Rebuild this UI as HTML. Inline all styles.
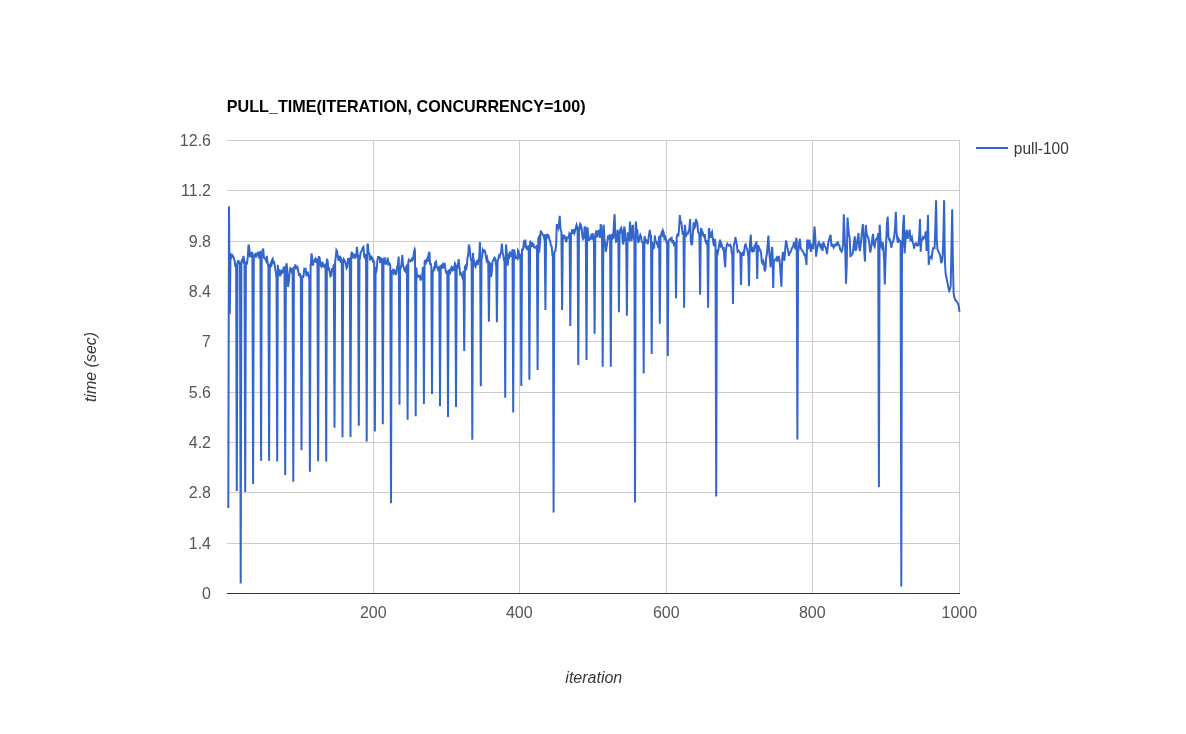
<!DOCTYPE html>
<html><head><meta charset="utf-8"><title>chart</title>
<style>html,body{margin:0;padding:0;background:#fff;}body{width:1186px;height:734px;position:relative;overflow:hidden;font-family:"Liberation Sans",sans-serif;}</style></head>
<body>
<svg width="1186" height="734" viewBox="0 0 1186 734" style="position:absolute;left:0;top:0;will-change:transform">
<rect x="227" y="140.0" width="733" height="1" fill="#ccc"/>
<rect x="227" y="190.0" width="733" height="1" fill="#ccc"/>
<rect x="227" y="241.0" width="733" height="1" fill="#ccc"/>
<rect x="227" y="291.0" width="733" height="1" fill="#ccc"/>
<rect x="227" y="341.0" width="733" height="1" fill="#ccc"/>
<rect x="227" y="392.0" width="733" height="1" fill="#ccc"/>
<rect x="227" y="442.0" width="733" height="1" fill="#ccc"/>
<rect x="227" y="492.0" width="733" height="1" fill="#ccc"/>
<rect x="227" y="543.0" width="733" height="1" fill="#ccc"/>
<rect x="373" y="140" width="1" height="453" fill="#ccc"/>
<rect x="519" y="140" width="1" height="453" fill="#ccc"/>
<rect x="666" y="140" width="1" height="453" fill="#ccc"/>
<rect x="812" y="140" width="1" height="453" fill="#ccc"/>
<rect x="959" y="140" width="1" height="453" fill="#ccc"/>
<rect x="227" y="593" width="733" height="1" fill="#333"/>
<path d="M228.3,507.9 L229.0,206.2 L229.8,314.0 L230.5,254.0 L231.0,254.4 L231.7,256.8 L232.4,255.3 L233.2,256.7 L233.9,258.2 L234.6,260.5 L235.4,266.8 L236.1,263.8 L236.1,266.1 L236.8,491.0 L237.5,261.8 L237.6,264.6 L238.3,260.2 L239.0,262.3 L239.7,263.3 L240.0,262.5 L240.7,583.6 L241.4,261.6 L241.9,260.3 L242.7,261.4 L243.4,255.9 L244.1,259.7 L244.5,261.7 L245.2,492.1 L245.9,263.8 L246.3,262.7 L247.1,263.2 L247.8,256.9 L248.5,244.5 L249.3,247.4 L250.0,257.2 L250.7,254.2 L251.5,255.9 L252.2,251.8 L252.4,255.0 L253.1,484.1 L253.8,256.4 L254.4,255.1 L255.1,254.3 L255.9,257.6 L256.6,252.8 L257.3,255.5 L258.1,251.8 L258.8,258.5 L259.5,252.5 L260.2,252.0 L260.4,253.0 L261.1,460.8 L261.7,259.4 L261.8,253.9 L262.4,250.9 L263.2,248.6 L263.9,257.7 L264.6,258.0 L265.4,259.3 L266.1,260.8 L266.8,255.9 L267.6,263.0 L268.3,265.9 L268.4,263.9 L269.1,460.8 L269.8,265.0 L269.8,265.5 L270.5,263.9 L271.2,267.1 L272.0,260.0 L272.7,258.8 L273.4,262.8 L274.2,262.3 L274.9,266.7 L275.6,271.1 L276.4,276.8 L276.5,274.8 L277.2,461.6 L277.8,264.9 L277.9,266.7 L278.6,272.8 L279.3,271.6 L280.0,276.3 L280.8,271.9 L281.5,273.0 L282.2,269.6 L282.9,273.0 L283.7,266.6 L284.4,268.7 L284.5,269.2 L285.2,474.9 L285.9,266.9 L285.9,267.0 L286.6,263.3 L287.3,270.9 L288.1,286.9 L288.8,281.4 L289.5,274.1 L290.3,268.3 L291.0,268.7 L291.7,271.2 L292.5,267.9 L292.6,268.3 L293.3,481.7 L293.9,267.4 L294.0,267.2 L294.7,267.2 L295.4,264.5 L296.1,268.5 L296.9,268.3 L297.6,267.3 L298.3,271.3 L299.1,275.8 L299.8,273.2 L300.5,277.5 L300.8,275.8 L301.5,450.3 L302.2,275.3 L302.7,277.7 L303.4,276.9 L304.2,269.9 L304.9,271.1 L305.6,267.9 L306.4,276.2 L307.1,272.7 L307.8,272.5 L308.6,275.8 L309.2,278.6 L309.3,280.4 L309.9,471.7 L310.6,264.1 L310.8,266.5 L311.5,253.5 L312.2,257.4 L313.0,265.7 L313.7,261.3 L314.4,261.0 L315.2,259.2 L315.9,262.8 L316.6,258.5 L317.4,263.9 L317.4,259.6 L318.1,461.2 L318.8,255.9 L318.8,256.6 L319.6,257.7 L320.3,263.7 L321.0,265.7 L321.8,262.0 L322.5,267.0 L323.2,264.4 L324.0,266.5 L324.7,265.7 L325.4,264.7 L325.5,265.5 L326.2,461.6 L326.9,258.4 L326.9,260.5 L327.6,260.6 L328.3,269.2 L329.1,268.6 L329.8,272.7 L330.5,276.3 L331.3,275.6 L332.0,268.4 L332.7,271.9 L333.5,265.7 L333.8,265.3 L334.5,427.8 L335.2,260.8 L335.7,257.3 L336.4,250.2 L337.1,251.4 L337.9,257.4 L338.6,260.8 L339.3,258.2 L340.1,255.9 L340.8,262.9 L341.5,260.4 L341.8,261.6 L342.5,437.3 L343.2,261.5 L343.7,259.2 L344.5,260.5 L345.2,261.9 L345.9,264.2 L346.6,268.1 L347.4,266.6 L348.1,258.1 L348.8,261.9 L349.6,260.8 L349.8,257.5 L350.5,436.9 L351.2,255.0 L351.8,251.8 L352.5,258.2 L353.2,255.7 L354.0,258.2 L354.7,253.9 L355.4,257.5 L356.2,256.6 L356.9,246.9 L357.6,253.8 L358.1,256.0 L358.8,425.7 L359.5,255.1 L359.8,259.2 L360.6,252.9 L361.3,251.4 L362.0,249.9 L362.8,247.7 L363.5,246.9 L364.2,256.6 L365.0,257.9 L365.7,255.9 L366.0,253.9 L366.7,441.5 L367.4,245.0 L367.9,243.7 L368.6,254.8 L369.3,252.5 L370.1,259.6 L370.8,259.3 L371.5,257.0 L372.3,258.2 L373.0,261.3 L373.7,260.9 L374.2,262.3 L374.9,431.5 L375.6,267.0 L375.9,272.9 L376.7,269.8 L377.4,260.1 L378.1,257.0 L378.9,257.0 L379.6,257.9 L380.3,263.1 L381.1,258.5 L381.8,259.0 L382.1,260.1 L382.8,424.2 L383.5,259.1 L384.0,258.5 L384.7,258.3 L385.5,263.7 L386.2,263.9 L386.9,263.2 L387.7,257.7 L388.4,264.0 L389.1,263.0 L389.8,264.0 L390.3,265.9 L391.0,503.2 L391.7,270.1 L392.0,273.0 L392.8,270.7 L393.5,272.7 L394.2,270.2 L395.0,271.0 L395.7,275.1 L396.4,272.6 L397.2,266.4 L397.9,265.9 L398.6,256.7 L398.8,258.1 L399.5,404.8 L400.1,267.3 L400.2,266.8 L400.8,268.7 L401.6,262.8 L402.3,255.1 L403.0,265.6 L403.8,267.0 L404.5,270.6 L405.2,271.4 L406.0,267.9 L406.7,268.6 L406.9,264.2 L407.6,419.8 L408.3,261.6 L408.9,259.9 L409.6,261.3 L410.4,261.3 L411.1,260.6 L411.8,258.9 L412.5,260.2 L413.3,258.7 L414.0,251.7 L414.7,249.4 L415.0,250.6 L415.7,416.2 L416.4,267.5 L416.9,275.2 L417.7,275.3 L418.4,276.7 L419.1,276.5 L419.9,275.8 L420.6,280.5 L421.3,277.7 L422.1,278.3 L422.8,268.1 L423.2,267.1 L423.9,404.1 L424.6,261.9 L425.0,259.9 L425.7,264.5 L426.5,260.3 L427.2,258.7 L427.9,261.7 L428.7,253.9 L429.4,251.8 L430.1,263.9 L430.9,263.9 L431.3,266.8 L432.0,394.0 L432.7,270.9 L433.0,272.2 L433.8,268.3 L434.5,269.0 L435.2,262.7 L436.0,261.7 L436.7,267.4 L437.4,267.7 L438.2,270.6 L438.9,270.6 L439.3,265.9 L440.0,406.2 L440.7,265.3 L441.1,267.7 L441.8,264.4 L442.6,268.7 L443.3,262.6 L444.0,266.0 L444.8,264.8 L445.5,269.7 L446.2,272.6 L447.0,272.1 L447.3,273.2 L448.0,417.0 L448.7,272.1 L449.2,272.9 L449.9,269.0 L450.6,271.3 L451.4,267.7 L452.1,269.3 L452.8,266.5 L453.5,270.7 L454.3,268.2 L455.0,263.4 L455.3,263.9 L456.0,406.9 L456.7,264.7 L457.2,268.7 L457.9,265.5 L458.7,259.2 L459.4,267.0 L460.1,274.1 L460.9,273.4 L461.6,275.1 L462.3,277.1 L463.1,273.7 L463.5,270.8 L464.2,351.1 L464.9,266.8 L465.3,266.2 L466.0,270.1 L466.7,267.1 L467.5,257.6 L468.2,255.0 L468.9,244.5 L469.7,248.2 L470.4,255.8 L471.1,260.8 L471.6,258.4 L472.3,439.8 L473.0,252.9 L473.3,257.9 L474.1,261.8 L474.8,265.7 L475.5,266.7 L476.2,263.6 L477.0,260.3 L477.7,265.2 L478.4,259.7 L479.2,258.0 L479.9,242.0 L480.1,244.3 L480.8,386.2 L481.5,258.5 L482.1,257.5 L482.8,250.0 L483.6,251.5 L484.3,250.5 L485.0,250.7 L485.8,255.8 L486.5,259.9 L487.2,257.9 L488.0,262.5 L488.2,260.4 L488.9,321.8 L489.6,262.9 L490.2,263.6 L490.9,277.1 L491.6,274.3 L492.4,262.1 L493.1,260.9 L493.8,259.0 L494.6,257.6 L495.3,258.6 L496.0,265.7 L496.2,261.6 L496.9,322.2 L497.6,260.7 L498.2,259.0 L498.9,255.9 L499.7,256.8 L500.4,253.7 L501.1,252.6 L501.9,243.7 L502.6,252.8 L503.3,255.3 L504.1,261.1 L504.5,257.1 L505.2,397.8 L505.9,244.4 L506.3,247.0 L507.0,258.3 L507.7,265.7 L508.5,255.9 L509.2,257.0 L509.9,251.5 L510.7,256.1 L511.4,255.9 L512.1,253.2 L512.5,249.2 L513.2,412.6 L513.9,250.5 L514.3,250.4 L515.1,255.2 L515.8,257.9 L516.5,257.5 L517.3,258.5 L518.0,250.5 L518.7,251.9 L519.4,257.1 L520.2,255.4 L520.6,253.7 L521.3,386.0 L522.0,250.1 L522.4,249.2 L523.1,249.3 L523.8,243.0 L524.6,244.8 L525.3,239.6 L526.0,247.4 L526.8,247.2 L527.5,250.3 L528.2,246.4 L528.7,245.3 L529.4,379.8 L530.1,242.4 L530.4,241.9 L531.2,244.8 L531.9,242.1 L532.6,246.8 L533.4,243.3 L534.1,247.4 L534.8,247.7 L535.6,247.6 L536.3,246.3 L536.9,245.1 L537.6,369.9 L538.3,238.3 L538.5,237.9 L539.2,252.6 L539.9,243.8 L540.7,230.6 L541.4,232.2 L542.1,233.5 L542.9,235.2 L543.6,235.3 L544.3,239.3 L544.7,234.3 L545.4,309.9 L546.1,234.2 L546.5,239.0 L547.3,233.8 L548.0,236.3 L548.7,236.1 L549.5,239.6 L550.2,241.1 L550.9,245.7 L551.7,246.5 L552.4,254.8 L552.9,254.6 L553.6,512.5 L554.3,254.0 L554.6,251.5 L555.3,251.1 L556.1,245.0 L556.8,224.1 L557.5,225.7 L558.3,228.1 L559.0,224.4 L559.7,215.9 L560.5,229.4 L561.2,231.2 L561.4,231.8 L562.1,310.1 L562.8,234.5 L563.4,237.8 L564.1,235.8 L564.8,236.5 L565.6,240.1 L566.3,242.2 L567.0,237.6 L567.8,237.8 L568.5,237.6 L569.2,234.3 L569.6,235.5 L570.3,326.0 L571.0,232.5 L571.4,233.5 L572.2,229.4 L572.9,233.8 L573.6,229.2 L574.4,233.0 L575.1,230.9 L575.8,227.2 L576.6,224.9 L577.3,228.5 L577.6,229.6 L578.3,365.1 L579.0,226.4 L579.5,229.9 L580.2,224.0 L581.0,225.1 L581.7,229.0 L582.4,237.0 L583.1,239.1 L583.9,237.9 L584.6,226.5 L585.3,228.2 L585.8,230.6 L586.5,360.0 L587.2,228.3 L587.5,227.3 L588.3,235.3 L589.0,240.6 L589.7,238.7 L590.5,238.8 L591.2,236.0 L591.9,237.5 L592.7,233.1 L593.4,239.6 L593.9,235.5 L594.6,333.8 L595.3,234.6 L595.6,233.6 L596.3,230.6 L597.1,237.2 L597.8,234.6 L598.5,229.8 L599.3,233.1 L600.0,237.9 L600.7,224.1 L601.5,230.8 L602.0,235.2 L602.7,366.7 L603.4,225.7 L603.7,224.9 L604.4,238.3 L605.1,243.1 L605.8,251.8 L606.6,247.1 L607.3,242.6 L608.0,235.5 L608.8,237.4 L609.5,235.6 L610.1,236.2 L610.8,366.7 L611.5,237.2 L611.7,233.9 L612.4,238.9 L613.2,237.9 L613.9,223.5 L614.6,214.2 L615.4,237.5 L616.1,241.7 L616.8,241.1 L617.6,229.8 L618.2,231.8 L618.3,232.4 L618.9,312.3 L619.6,231.2 L619.8,233.8 L620.5,229.0 L621.2,227.8 L622.0,231.1 L622.7,242.4 L623.4,244.4 L624.2,226.5 L624.9,230.4 L625.6,241.4 L626.2,239.0 L626.9,315.8 L627.6,235.1 L627.8,232.2 L628.5,238.2 L629.3,239.5 L630.0,221.6 L630.7,229.4 L631.5,241.1 L632.2,232.1 L632.9,224.9 L633.7,237.6 L634.3,239.8 L634.4,241.1 L635.0,502.6 L635.7,224.0 L635.9,221.6 L636.6,230.5 L637.3,230.4 L638.1,242.8 L638.8,241.1 L639.5,237.8 L640.3,235.0 L641.0,236.6 L641.7,241.7 L642.5,242.7 L643.0,241.7 L643.7,373.5 L644.4,237.6 L644.7,236.3 L645.4,241.5 L646.1,240.0 L646.9,241.0 L647.6,244.4 L648.3,240.7 L649.0,234.8 L649.8,229.8 L650.5,236.4 L651.0,234.7 L651.7,353.9 L652.4,243.3 L652.7,243.8 L653.4,248.4 L654.2,247.7 L654.9,235.5 L655.6,241.2 L656.4,241.6 L657.1,243.8 L657.8,246.1 L658.6,244.4 L659.1,236.0 L659.8,323.7 L660.5,234.8 L660.8,236.5 L661.5,233.2 L662.2,234.8 L663.0,230.6 L663.7,232.4 L664.4,238.4 L665.2,237.0 L665.9,239.1 L666.6,243.3 L667.1,241.5 L667.8,356.0 L668.5,240.5 L668.8,240.2 L669.5,239.4 L670.3,238.7 L671.0,240.0 L671.7,238.6 L672.5,243.3 L673.2,240.2 L673.9,244.5 L674.7,243.4 L675.3,245.2 L675.4,246.1 L676.0,298.3 L676.7,237.6 L676.9,236.4 L677.6,233.5 L678.3,236.5 L679.1,228.6 L679.8,215.1 L680.5,221.8 L681.3,222.1 L682.0,228.1 L682.7,234.6 L683.4,231.3 L683.5,233.5 L684.1,307.8 L684.8,226.6 L684.9,224.9 L685.7,233.1 L686.4,235.2 L687.1,233.5 L687.9,233.5 L688.6,231.1 L689.3,229.2 L690.1,219.1 L690.8,239.9 L691.5,245.2 L692.2,243.2 L693.0,231.8 L693.7,222.4 L694.4,227.8 L695.2,226.4 L695.9,219.1 L696.6,221.1 L697.4,223.8 L698.1,232.1 L698.8,233.0 L699.4,235.0 L700.1,294.7 L700.8,230.5 L701.0,228.1 L701.8,230.1 L702.5,236.0 L703.2,233.8 L704.0,236.0 L704.7,234.2 L705.4,240.9 L706.2,242.8 L706.9,241.4 L707.4,240.2 L708.1,307.8 L708.8,229.6 L709.1,228.1 L709.8,233.8 L710.6,237.9 L711.3,233.9 L712.0,232.2 L712.7,238.0 L713.5,244.0 L714.2,246.1 L714.9,238.8 L715.5,243.5 L716.2,496.5 L716.9,250.6 L717.1,250.4 L717.9,252.4 L718.6,248.9 L719.3,243.7 L720.1,239.6 L720.8,245.4 L721.5,244.0 L722.3,247.1 L723.0,248.9 L723.7,247.0 L724.5,260.5 L725.2,267.3 L725.9,250.0 L726.7,245.4 L727.4,243.8 L728.1,245.0 L728.9,245.6 L729.6,245.9 L730.3,244.9 L731.1,247.2 L731.8,253.8 L732.3,254.2 L733.0,304.0 L733.7,247.4 L734.0,244.1 L734.7,242.8 L735.4,237.1 L736.2,241.7 L736.9,245.3 L737.6,251.6 L738.4,250.6 L739.1,251.3 L739.8,252.2 L740.3,252.8 L741.0,285.1 L741.7,252.4 L742.0,254.0 L742.8,252.8 L743.5,255.8 L744.2,251.5 L745.0,245.0 L745.7,244.4 L746.4,247.9 L747.2,248.9 L747.9,254.0 L748.3,253.6 L749.0,285.9 L749.7,247.8 L750.1,242.2 L750.8,234.7 L751.6,251.0 L752.3,251.4 L753.0,247.1 L753.8,251.8 L754.5,246.3 L755.2,246.9 L755.9,242.9 L756.5,242.5 L757.2,278.9 L757.9,245.2 L758.1,245.6 L758.9,247.2 L759.6,250.3 L760.3,250.1 L761.1,253.3 L761.8,261.8 L762.5,263.2 L763.3,261.2 L764.0,263.7 L764.7,271.4 L765.5,268.6 L766.2,257.2 L766.9,254.0 L767.7,244.4 L768.4,235.5 L769.1,250.1 L769.9,259.3 L770.6,267.3 L771.3,255.0 L772.1,246.9 L772.5,250.8 L773.2,287.9 L773.9,259.5 L774.3,261.2 L775.0,259.5 L775.7,259.3 L776.5,257.9 L777.2,260.8 L777.9,260.4 L778.6,255.9 L779.4,258.9 L780.1,266.5 L780.7,276.0 L781.4,286.8 L782.1,261.9 L782.3,256.6 L783.0,251.8 L783.8,258.0 L784.5,260.8 L785.2,248.9 L786.0,240.4 L786.7,243.8 L787.4,247.5 L788.2,251.1 L788.9,255.9 L789.6,252.9 L790.4,252.3 L791.1,250.6 L791.8,248.3 L792.6,247.3 L793.3,245.2 L794.0,242.0 L794.8,246.9 L795.5,249.3 L796.2,237.9 L796.7,240.3 L797.4,439.4 L798.1,249.5 L798.4,251.0 L799.1,243.1 L799.9,238.8 L800.6,247.4 L801.3,249.3 L802.1,250.6 L802.8,251.1 L803.5,252.5 L804.3,254.9 L805.0,254.7 L805.7,258.6 L806.5,264.9 L807.2,239.6 L807.9,249.3 L808.7,246.4 L809.4,239.6 L810.1,246.0 L810.9,251.8 L811.6,243.7 L812.3,246.8 L813.1,249.3 L813.8,237.3 L814.5,226.5 L815.3,236.7 L816.0,256.7 L816.7,252.2 L817.5,246.5 L818.2,244.2 L818.9,242.4 L819.6,244.2 L820.4,246.8 L821.1,245.2 L821.8,247.0 L822.6,251.0 L823.3,242.0 L824.0,243.8 L824.8,246.3 L825.5,247.3 L826.2,249.4 L827.0,254.2 L827.7,247.5 L828.4,242.0 L829.2,239.4 L829.9,236.8 L830.6,234.7 L831.4,245.6 L832.1,245.7 L832.8,245.0 L833.6,247.6 L834.3,246.5 L835.0,245.0 L835.8,245.2 L836.5,243.5 L837.2,244.5 L838.0,242.7 L838.7,244.4 L839.4,245.6 L840.2,249.5 L840.9,250.5 L841.6,251.6 L842.3,250.0 L843.1,243.5 L843.8,214.2 L844.5,232.2 L845.3,251.5 L846.0,283.7 L846.7,266.6 L847.5,217.5 L848.2,226.4 L848.9,234.5 L849.7,237.6 L850.4,256.0 L851.1,255.7 L851.9,254.6 L852.6,254.0 L853.3,249.1 L854.1,241.2 L854.8,236.3 L855.5,251.0 L856.3,249.0 L857.0,242.6 L857.7,238.3 L858.5,233.0 L859.2,247.2 L859.9,251.0 L860.7,244.9 L861.4,237.5 L862.1,231.0 L862.8,224.1 L863.6,235.3 L864.3,252.6 L865.0,261.6 L865.8,224.9 L866.5,232.8 L867.2,235.7 L868.0,237.2 L868.7,239.5 L869.4,244.0 L870.2,252.6 L870.9,248.7 L871.6,244.7 L872.4,237.7 L873.1,233.9 L873.8,245.0 L874.6,246.7 L875.3,242.5 L876.0,239.4 L876.8,238.5 L877.5,237.7 L878.2,233.5 L878.2,233.1 L878.9,487.2 L879.6,225.7 L879.7,224.9 L880.4,238.6 L881.2,246.2 L881.9,247.7 L882.6,242.0 L883.4,247.0 L884.1,260.3 L884.8,284.5 L885.5,259.7 L886.3,238.2 L887.0,223.2 L887.7,216.7 L888.5,237.3 L889.2,239.6 L889.9,239.5 L890.7,244.0 L891.4,247.7 L892.1,242.9 L892.9,241.7 L893.6,239.3 L894.3,236.3 L895.1,227.2 L895.8,211.8 L896.5,231.8 L897.3,239.3 L898.0,242.8 L898.7,239.0 L899.5,240.7 L900.2,240.8 L900.6,241.6 L901.3,586.6 L902.0,243.7 L902.4,244.4 L903.1,225.5 L903.9,215.1 L904.6,253.4 L905.3,242.6 L906.0,233.7 L906.8,229.8 L907.5,238.7 L908.2,235.2 L909.0,232.7 L909.7,229.8 L910.4,241.1 L911.2,238.9 L911.9,237.1 L912.6,241.8 L913.4,243.9 L914.1,248.5 L914.8,244.5 L915.6,243.7 L916.3,243.4 L917.0,245.4 L917.8,245.4 L918.5,245.1 L919.2,235.9 L920.0,219.1 L920.7,251.8 L921.4,240.8 L922.2,239.9 L922.9,237.4 L923.6,238.5 L924.4,237.3 L925.1,235.2 L925.8,231.4 L926.6,251.0 L927.3,236.0 L928.0,215.1 L928.7,264.9 L929.5,258.3 L930.2,257.4 L930.9,256.5 L931.7,257.9 L932.4,251.8 L933.1,248.2 L933.9,248.2 L934.6,248.1 L935.3,228.1 L936.1,200.3 L936.8,240.6 L937.5,249.6 L938.3,251.3 L939.0,252.3 L939.7,254.2 L940.5,256.9 L941.2,263.2 L941.9,261.5 L942.7,254.9 L943.4,235.9 L944.1,200.3 L944.9,261.3 L945.6,273.5 L946.3,277.1 L947.1,280.9 L947.8,284.4 L948.5,288.3 L949.2,290.7 L950.0,288.8 L950.7,286.2 L951.4,251.0 L952.2,209.3 L952.9,261.8 L953.6,293.1 L954.4,297.4 L955.1,299.5 L955.8,300.9 L956.6,301.1 L957.3,302.2 L958.0,303.8 L958.8,306.2 L959.5,311.9" fill="none" stroke="#3366cc" stroke-width="2" stroke-linejoin="miter" stroke-linecap="butt"/>
<rect x="976" y="147" width="32" height="2" fill="#3366cc"/>
<text transform="translate(226.80,111.50) scale(1.0096,1)" text-anchor="start" font-family="Liberation Sans, sans-serif" font-size="16" font-weight="bold" fill="#000">PULL_TIME(ITERATION, CONCURRENCY=100)</text>
<text transform="translate(1013.80,153.90) scale(0.9660,1)" text-anchor="start" font-family="Liberation Sans, sans-serif" font-size="16"  fill="#383838">pull-100</text>
<text transform="translate(211.00,146.10)" text-anchor="end" font-family="Liberation Sans, sans-serif" font-size="16"  fill="#555">12.6</text>
<text transform="translate(211.00,196.43)" text-anchor="end" font-family="Liberation Sans, sans-serif" font-size="16"  fill="#555">11.2</text>
<text transform="translate(211.00,246.77)" text-anchor="end" font-family="Liberation Sans, sans-serif" font-size="16"  fill="#555">9.8</text>
<text transform="translate(211.00,297.10)" text-anchor="end" font-family="Liberation Sans, sans-serif" font-size="16"  fill="#555">8.4</text>
<text transform="translate(211.00,347.43)" text-anchor="end" font-family="Liberation Sans, sans-serif" font-size="16"  fill="#555">7</text>
<text transform="translate(211.00,397.76)" text-anchor="end" font-family="Liberation Sans, sans-serif" font-size="16"  fill="#555">5.6</text>
<text transform="translate(211.00,448.10)" text-anchor="end" font-family="Liberation Sans, sans-serif" font-size="16"  fill="#555">4.2</text>
<text transform="translate(211.00,498.43)" text-anchor="end" font-family="Liberation Sans, sans-serif" font-size="16"  fill="#555">2.8</text>
<text transform="translate(211.00,548.76)" text-anchor="end" font-family="Liberation Sans, sans-serif" font-size="16"  fill="#555">1.4</text>
<text transform="translate(211.00,599.10)" text-anchor="end" font-family="Liberation Sans, sans-serif" font-size="16"  fill="#555">0</text>
<text transform="translate(373.30,617.80)" text-anchor="middle" font-family="Liberation Sans, sans-serif" font-size="16"  fill="#555">200</text>
<text transform="translate(519.30,617.80)" text-anchor="middle" font-family="Liberation Sans, sans-serif" font-size="16"  fill="#555">400</text>
<text transform="translate(666.30,617.80)" text-anchor="middle" font-family="Liberation Sans, sans-serif" font-size="16"  fill="#555">600</text>
<text transform="translate(812.30,617.80)" text-anchor="middle" font-family="Liberation Sans, sans-serif" font-size="16"  fill="#555">800</text>
<text transform="translate(959.30,617.80)" text-anchor="middle" font-family="Liberation Sans, sans-serif" font-size="16"  fill="#555">1000</text>
<text transform="translate(593.80,682.80)" text-anchor="middle" font-family="Liberation Sans, sans-serif" font-size="16" font-style="italic" fill="#383838">iteration</text>
<text transform="translate(95.50,367.00) rotate(-90)" text-anchor="middle" font-family="Liberation Sans, sans-serif" font-size="16" font-style="italic" fill="#383838">time (sec)</text>
</svg>
</body></html>
